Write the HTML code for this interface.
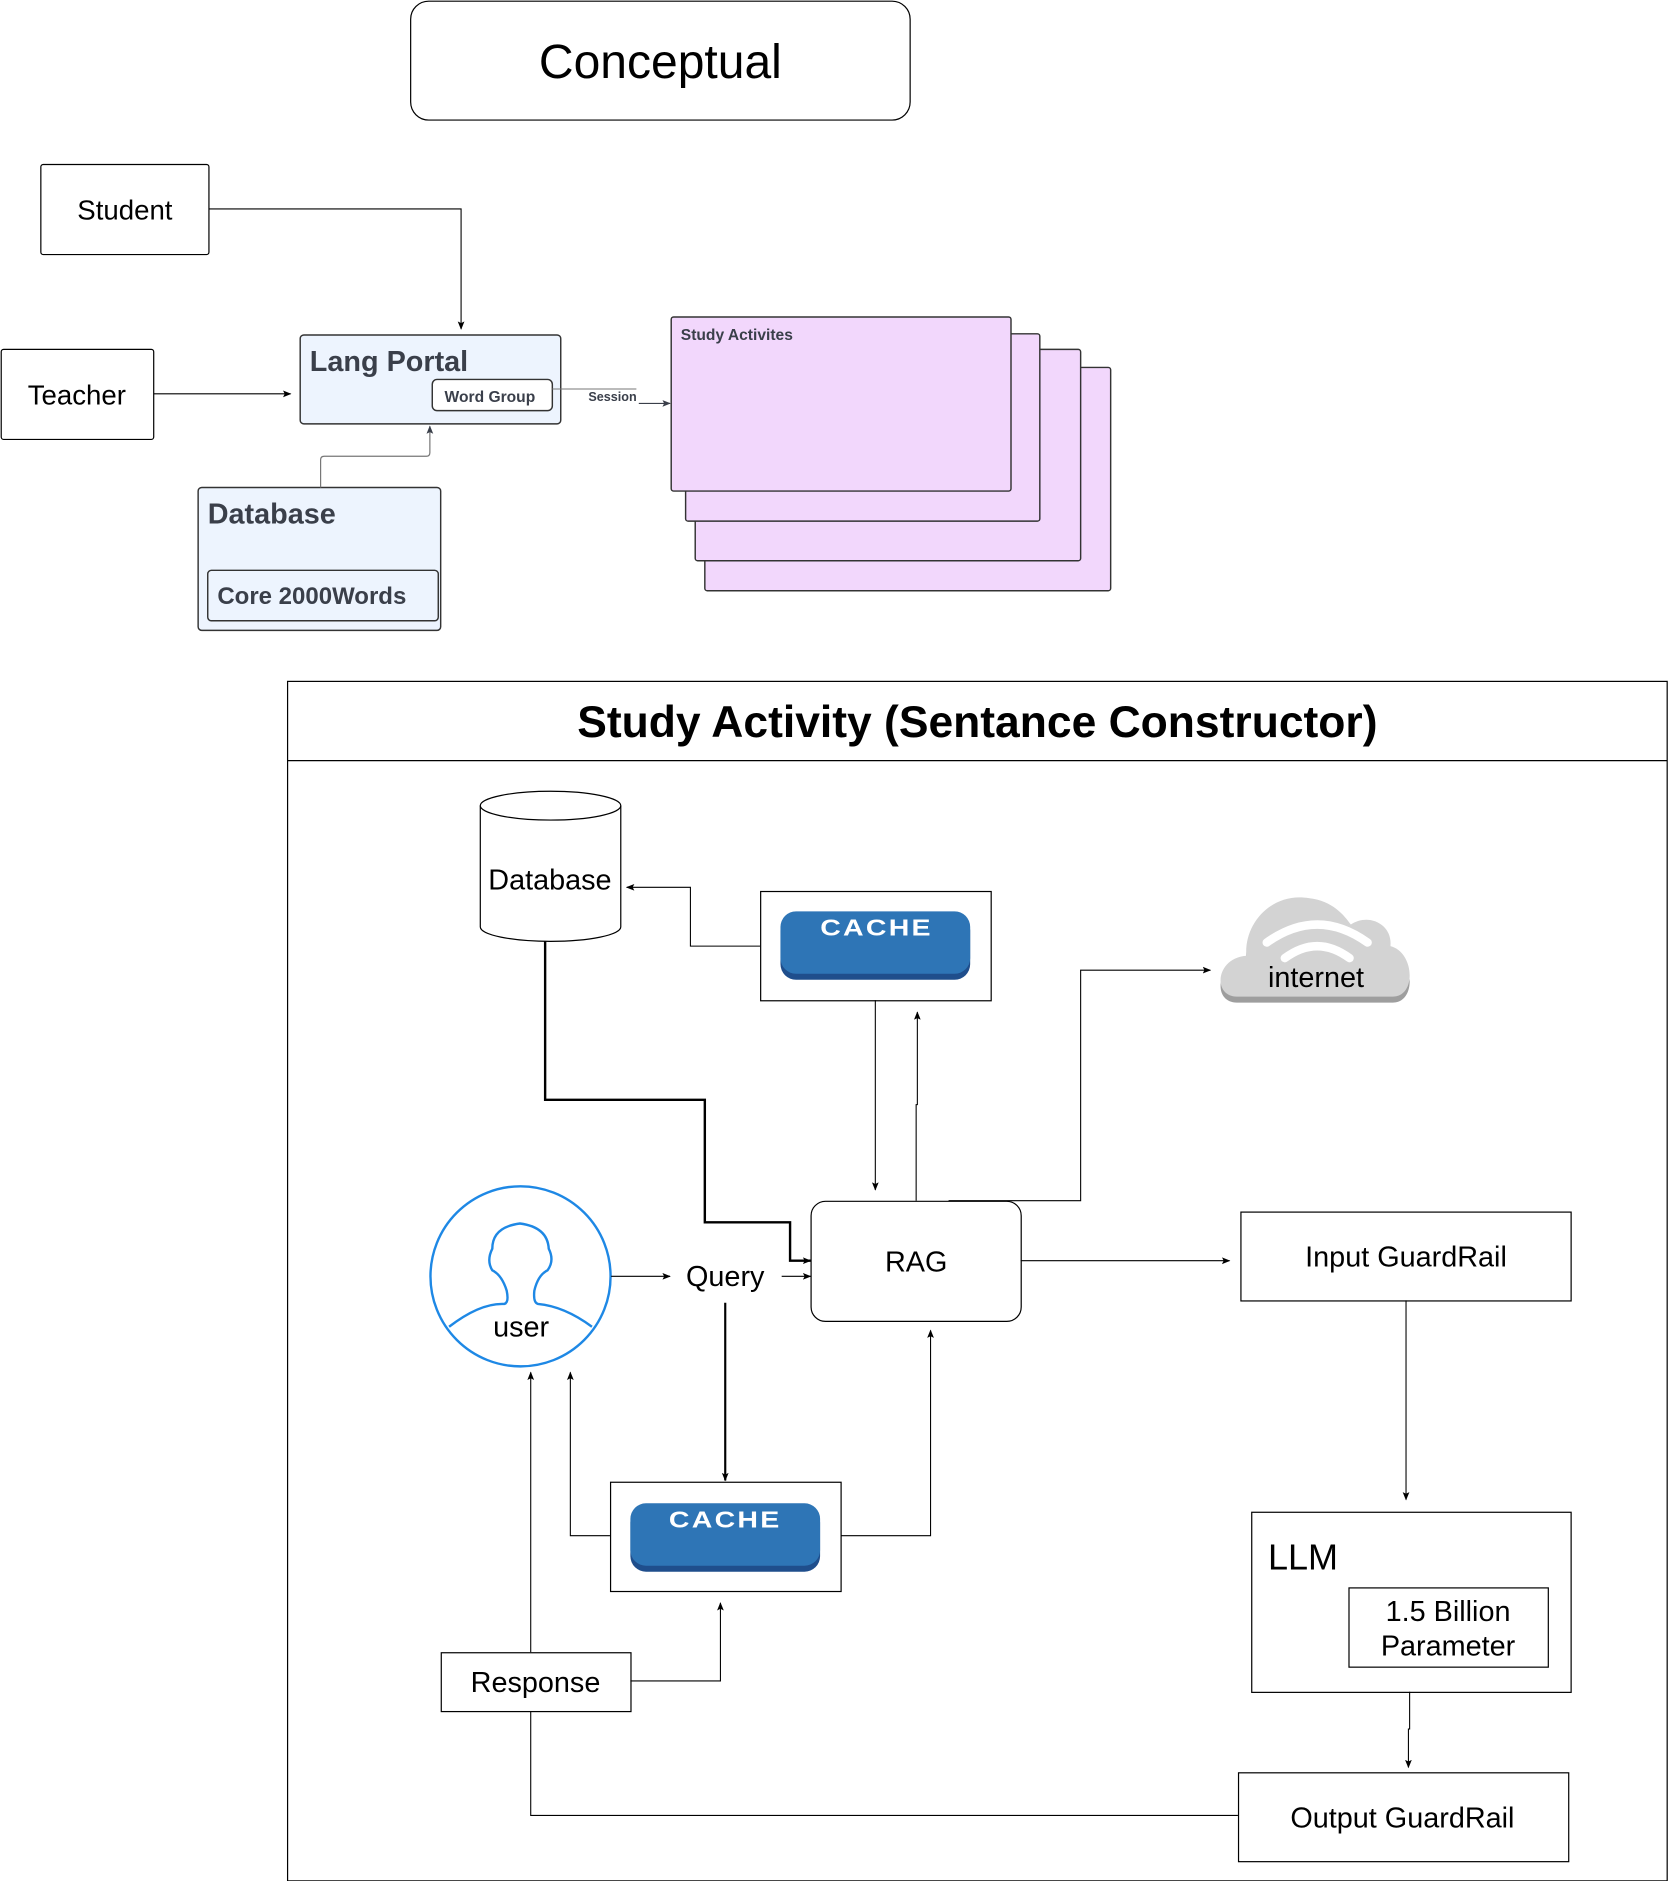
<!DOCTYPE html>
<html><head><meta charset="utf-8"><style>
html,body{margin:0;padding:0;background:#fff;}
svg{display:block;}
text{font-family:"Liberation Sans",Arial,sans-serif;}
</style></head><body>
<svg width="1669" height="1881" viewBox="0 0 1390 1566.6" xmlns="http://www.w3.org/2000/svg">
<defs>
<marker id="a" viewBox="0 0 10 10" refX="9" refY="5" markerWidth="7" markerHeight="7" orient="auto" markerUnits="userSpaceOnUse"><path d="M0,1 L10,5 L0,9 L2,5 Z" fill="#000"/></marker>
<marker id="g" viewBox="0 0 10 10" refX="9" refY="5" markerWidth="7" markerHeight="7" orient="auto" markerUnits="userSpaceOnUse"><path d="M0,1 L10,5 L0,9 L2,5 Z" fill="#3a3f4a"/></marker>
</defs>
<rect x="0" y="0" width="1390" height="1567" fill="#fff"/>
<rect x="342" y="1" width="416" height="99" rx="15" fill="#fff" stroke="#000" stroke-width="1"/>
<text x="550" y="65" font-size="40" text-anchor="middle">Conceptual</text>
<rect x="34" y="137" width="140" height="75" rx="2" fill="#fff" stroke="#000"/>
<text x="104" y="183" font-size="23" text-anchor="middle">Student</text>
<rect x="1" y="291" width="127" height="75" rx="2" fill="#fff" stroke="#000"/>
<text x="64" y="337" font-size="23" text-anchor="middle">Teacher</text>
<path d="M174,174 H384 V274" fill="none" stroke="#000" stroke-width="0.9" marker-end="url(#a)"/>
<path d="M128,328 H242" fill="none" stroke="#000" stroke-width="0.9" marker-end="url(#a)"/>
<rect x="250" y="279" width="217" height="74" rx="3" fill="#edf4fe" stroke="#333" stroke-width="1.2"/>
<text x="258" y="309" font-size="24" font-weight="bold" fill="#3a3f4a">Lang Portal</text>
<rect x="360" y="316" width="100" height="26" rx="4" fill="#fff" stroke="#333" stroke-width="1.2"/>
<text x="408" y="335" font-size="13" font-weight="bold" fill="#3a3f4a" text-anchor="middle">Word Group</text>
<path d="M460,324 H530" stroke="#777" stroke-width="0.8"/>
<text x="490" y="334" font-size="10.5" font-weight="bold" fill="#3a3f4a">Session</text>
<path d="M532,336 H558" fill="none" stroke="#3a3f4a" stroke-width="0.9" marker-end="url(#g)"/>
<rect x="165" y="406" width="202" height="119" rx="3" fill="#edf4fe" stroke="#333" stroke-width="1.2"/>
<text x="173" y="436" font-size="24" font-weight="bold" fill="#3a3f4a">Database</text>
<rect x="173" y="475" width="192" height="42" rx="3" fill="#edf4fe" stroke="#333" stroke-width="1.2"/>
<text x="181" y="503" font-size="20" font-weight="bold" fill="#3a3f4a">Core 2000Words</text>
<path d="M267,406 V383 Q267,380 270,380 H355 Q358,380 358,377 V355" fill="none" stroke="#777" stroke-width="1" marker-end="url(#g)"/>
<rect x="587" y="306" width="338" height="186" rx="2" fill="#f2d7fc" stroke="#333" stroke-width="1.2"/>
<rect x="579" y="291" width="321" height="176" rx="2" fill="#f2d7fc" stroke="#333" stroke-width="1.2"/>
<rect x="571" y="278" width="295" height="156" rx="2" fill="#f2d7fc" stroke="#333" stroke-width="1.2"/>
<rect x="559" y="264" width="283" height="145" rx="2" fill="#f2d7fc" stroke="#333" stroke-width="1.2"/>
<text x="567" y="283" font-size="13" font-weight="bold" fill="#3a3f4a">Study Activites</text>
<rect x="239.5" y="567.5" width="1149" height="999" fill="#fff" stroke="#000" stroke-width="1"/>
<line x1="239.5" y1="633.5" x2="1388.5" y2="633.5" stroke="#000"/>
<text x="814" y="614" font-size="37" font-weight="bold" text-anchor="middle">Study Activity (Sentance Constructor)</text>
<path d="M400,671 V772 A58.5,12 0 0 0 517,772 V671" fill="#fff" stroke="#000"/>
<ellipse cx="458.5" cy="671" rx="58.5" ry="12" fill="#fff" stroke="#000"/>
<text x="458" y="741" font-size="24" text-anchor="middle">Database</text>
<rect x="633.5" y="742.5" width="192" height="91" fill="#fff" stroke="#000"/>
<rect x="650" y="762" width="158" height="54" rx="13" fill="#1f4e8c"/>
<rect x="650" y="759" width="158" height="52" rx="13" fill="#2e75b6"/>
<text x="730" y="779" font-size="19" font-weight="bold" fill="#fff" text-anchor="middle" letter-spacing="1.5" transform="translate(730 779) scale(1.25 1) translate(-730 -779)">CACHE</text>
<rect x="508.5" y="1234.5" width="192" height="91" fill="#fff" stroke="#000"/>
<rect x="525" y="1255" width="158" height="54" rx="13" fill="#1f4e8c"/>
<rect x="525" y="1252" width="158" height="52" rx="13" fill="#2e75b6"/>
<text x="604" y="1272" font-size="19" font-weight="bold" fill="#fff" text-anchor="middle" letter-spacing="1.5" transform="translate(604 1272) scale(1.25 1) translate(-604 -1272)">CACHE</text>
<g>
<path d="M1030,832 C1010,832 1012,800 1038,798 C1036,770 1060,745 1090,750 C1110,752 1120,765 1125,772 C1140,762 1160,772 1158,790 C1178,795 1180,832 1160,832 Z" fill="#9e9e9e" transform="translate(0,3)"/>
<path d="M1030,830 C1010,830 1012,798 1038,796 C1036,768 1060,743 1090,748 C1110,750 1120,763 1125,770 C1140,760 1160,770 1158,788 C1178,793 1180,830 1160,830 Z" fill="#d3d3d3"/>
<path d="M1055,785 Q1097,755 1139,785" fill="none" stroke="#fff" stroke-width="7" stroke-linecap="round"/>
<path d="M1070,798 Q1097,778 1124,798" fill="none" stroke="#fff" stroke-width="7" stroke-linecap="round"/>
<text x="1096" y="822" font-size="24" text-anchor="middle">internet</text>
</g>
<rect x="675.5" y="1000.5" width="175" height="100" rx="12" fill="#fff" stroke="#000"/>
<text x="763" y="1059" font-size="24" text-anchor="middle">RAG</text>
<circle cx="433.5" cy="1063" r="75" fill="#fff" stroke="#1e88e5" stroke-width="2"/>
<path d="M374,1105 Q400,1085 420,1086 Q424,1085 422,1075 Q418,1062 410,1058 Q405,1050 410,1040 Q410,1022 433,1019 Q456,1022 457,1040 Q462,1050 456,1058 Q448,1062 445,1075 Q444,1085 448,1086 Q470,1088 493,1105" fill="none" stroke="#1e88e5" stroke-width="2"/>
<text x="434" y="1113" font-size="24" text-anchor="middle">user</text>
<text x="604" y="1071" font-size="24" text-anchor="middle">Query</text>
<rect x="367.5" y="1376.5" width="158" height="49" fill="#fff" stroke="#000"/>
<text x="446" y="1409" font-size="24" text-anchor="middle">Response</text>
<rect x="1033.5" y="1009.5" width="275" height="74" fill="#fff" stroke="#000"/>
<text x="1171" y="1055" font-size="24" text-anchor="middle">Input GuardRail</text>
<rect x="1042.5" y="1259.5" width="266" height="150" fill="#fff" stroke="#000"/>
<text x="1056" y="1307" font-size="30">LLM</text>
<rect x="1123.5" y="1322.5" width="166" height="66" fill="#fff" stroke="#000"/>
<text x="1206" y="1350" font-size="24" text-anchor="middle">1.5 Billion</text>
<text x="1206" y="1379" font-size="24" text-anchor="middle">Parameter</text>
<rect x="1031.5" y="1476.5" width="275" height="74" fill="#fff" stroke="#000"/>
<text x="1168" y="1522" font-size="24" text-anchor="middle">Output GuardRail</text>
<g fill="none" stroke="#000" stroke-width="0.9">
<path d="M633,788 H575 V739 H522" marker-end="url(#a)"/>
<path d="M729,833 V991" marker-end="url(#a)"/>
<path d="M763,1000 V920 H764 V843" marker-end="url(#a)"/>
<path d="M790,1000 H900 V808 H1008" marker-end="url(#a)"/>
<path d="M454,784 V916 H587 V1018 H658 V1050 H675" stroke-width="2" marker-end="url(#a)"/>
<path d="M509,1063 H558" marker-end="url(#a)"/>
<path d="M651,1063 H675" marker-end="url(#a)"/>
<path d="M604,1085 V1233" stroke-width="1.8" marker-end="url(#a)"/>
<path d="M508,1279 H475 V1143" marker-end="url(#a)"/>
<path d="M700,1279 H775 V1108" marker-end="url(#a)"/>
<path d="M442,1376 V1143" marker-end="url(#a)"/>
<path d="M525,1400 H600 V1335" marker-end="url(#a)"/>
<path d="M442,1425 V1512 H1031"/>
<path d="M850,1050 H1024" marker-end="url(#a)"/>
<path d="M1171,1083 V1249" marker-end="url(#a)"/>
<path d="M1174,1409 V1440 H1173 V1472" marker-end="url(#a)"/>
</g>
</svg>
</body></html>
